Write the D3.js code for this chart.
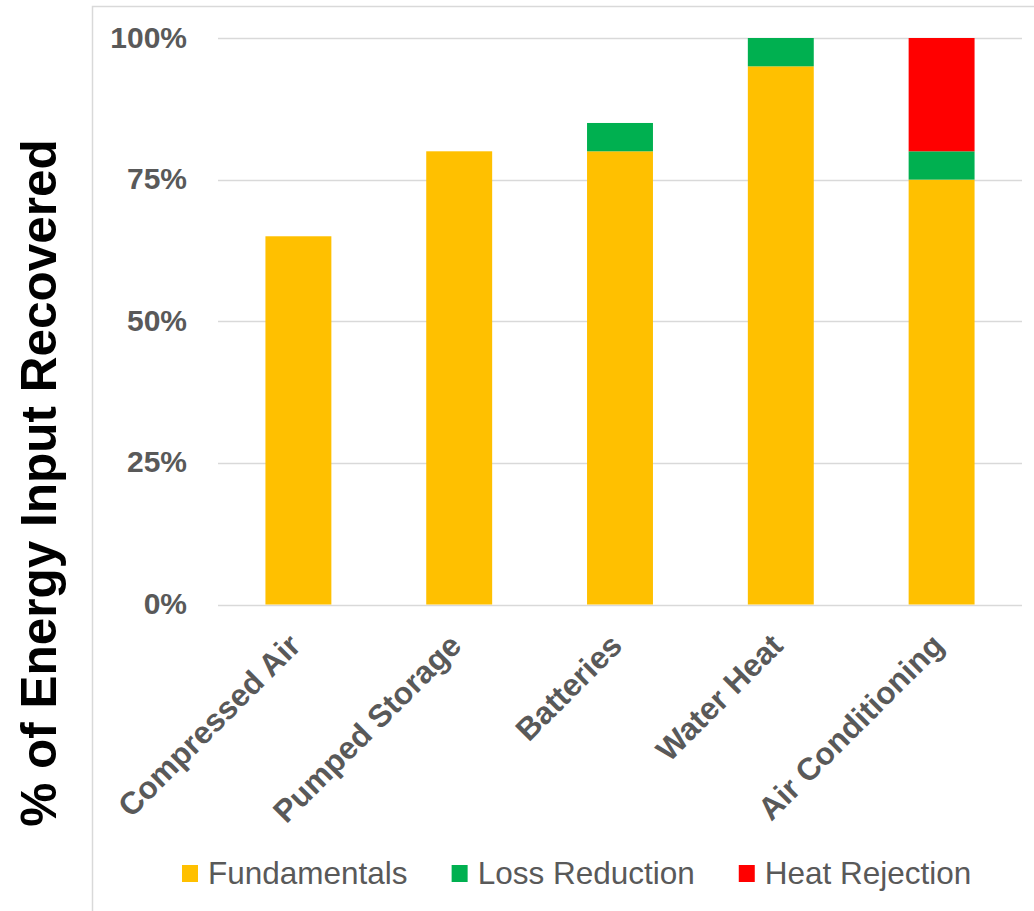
<!DOCTYPE html>
<html>
<head>
<meta charset="utf-8">
<script src="https://cdn.jsdelivr.net/npm/d3@7"></script>
<style>
  html, body { margin: 0; padding: 0; background: #ffffff; }
  svg { display: block; font-family: "Liberation Sans", Arial, sans-serif; }
</style>
</head>
<body>
<svg id="chart" width="1034" height="911"></svg>
<script>
// Technologies compared
const categories = ["Compressed Air", "Pumped Storage", "Batteries", "Water Heat", "Air Conditioning"];

// Share of energy input recovered (%) for each stacked component
const fundamentals  = [65, 80, 80, 95, 75];
const lossReduction = [0, 0, 5, 5, 5];
const heatRejection = [0, 0, 0, 0, 20];

const seriesNames  = ["Fundamentals", "Loss Reduction", "Heat Rejection"];
const seriesColors = ["#FFC000", "#00B050", "#FF0000"];
const yTicks = [0, 25, 50, 75, 100];

const rows = categories.map((c, i) => ({
  category: c,
  "Fundamentals": fundamentals[i],
  "Loss Reduction": lossReduction[i],
  "Heat Rejection": heatRejection[i]
}));

const svg = d3.select("#chart");
const textGray = "#595959";

// Chart-area frame
svg.append("rect")
  .attr("x", 92.5).attr("y", 6.5)
  .attr("width", 1100).attr("height", 1100)
  .attr("fill", "none").attr("stroke", "#d9d9d9").attr("stroke-width", 1.5);

const plot = { left: 218, right: 1022, top: 38, bottom: 604.5 };

const x = d3.scaleBand()
  .domain(categories)
  .range([plot.left, plot.right])
  .paddingInner(0.59)
  .paddingOuter(0.295);

const y = d3.scaleLinear()
  .domain([0, 100])
  .range([plot.bottom, plot.top]);

// Horizontal gridlines
svg.append("g")
  .selectAll("line")
  .data(yTicks)
  .join("line")
  .attr("x1", plot.left).attr("x2", plot.right)
  .attr("y1", d => Math.round(y(d)) + 0.5)
  .attr("y2", d => Math.round(y(d)) + 0.5)
  .attr("stroke", "#d9d9d9").attr("stroke-width", 1.5);

// Y axis tick labels
const yAxis = d3.axisLeft(y)
  .tickValues(yTicks)
  .tickFormat(d => d + "%")
  .tickSize(0)
  .tickPadding(0);

const yAxisG = svg.append("g")
  .attr("transform", `translate(187,0)`)
  .call(yAxis);
yAxisG.select(".domain").remove();
yAxisG.selectAll("text")
  .attr("fill", textGray)
  .attr("font-size", 30)
  .attr("font-weight", "bold")
  .attr("font-family", "Liberation Sans, Arial, sans-serif")
  .attr("dy", "0.3em");

// Stacked bars
const stack = d3.stack().keys(seriesNames);
const stacked = stack(rows);

svg.append("g")
  .selectAll("g")
  .data(stacked)
  .join("g")
  .attr("fill", (d, i) => seriesColors[i])
  .selectAll("rect")
  .data(d => d.filter(s => s[1] - s[0] > 0))
  .join("rect")
  .attr("x", d => x(d.data.category))
  .attr("width", x.bandwidth())
  .attr("y", d => y(d[1]))
  .attr("height", d => y(d[0]) - y(d[1]));

// Category labels, rotated
const xAxis = d3.axisBottom(x).tickSize(0).tickPadding(0);
const xAxisG = svg.append("g")
  .attr("transform", `translate(0,${plot.bottom})`)
  .call(xAxis);
xAxisG.select(".domain").remove();
xAxisG.selectAll("text")
  .attr("fill", textGray)
  .attr("font-size", 31.5)
  .attr("font-weight", "bold")
  .attr("font-family", "Liberation Sans, Arial, sans-serif")
  .attr("text-anchor", "end")
  .attr("dy", null)
  .attr("y", null)
  .attr("transform", "translate(4,43) rotate(-45)");

// Y axis title
svg.append("text")
  .attr("transform", `translate(56,483) rotate(-90)`)
  .attr("text-anchor", "middle")
  .attr("font-size", 49.5)
  .attr("font-weight", "bold")
  .attr("fill", "#000000")
  .text("% of Energy Input Recovered");

// Legend
const legend = svg.append("g").attr("transform", "translate(182,873)");
let lx = 0;
seriesNames.forEach((name, i) => {
  const item = legend.append("g").attr("transform", `translate(${lx},0)`);
  item.append("rect")
    .attr("x", 0).attr("y", -8)
    .attr("width", 16).attr("height", 17)
    .attr("fill", seriesColors[i]);
  const t = item.append("text")
    .attr("x", 26).attr("y", 0)
    .attr("dy", "0.36em")
    .attr("font-size", 31.5)
    .attr("fill", textGray)
    .text(name);
  lx += 26 + t.node().getComputedTextLength() + 44;
});
</script>
</body>
</html>
